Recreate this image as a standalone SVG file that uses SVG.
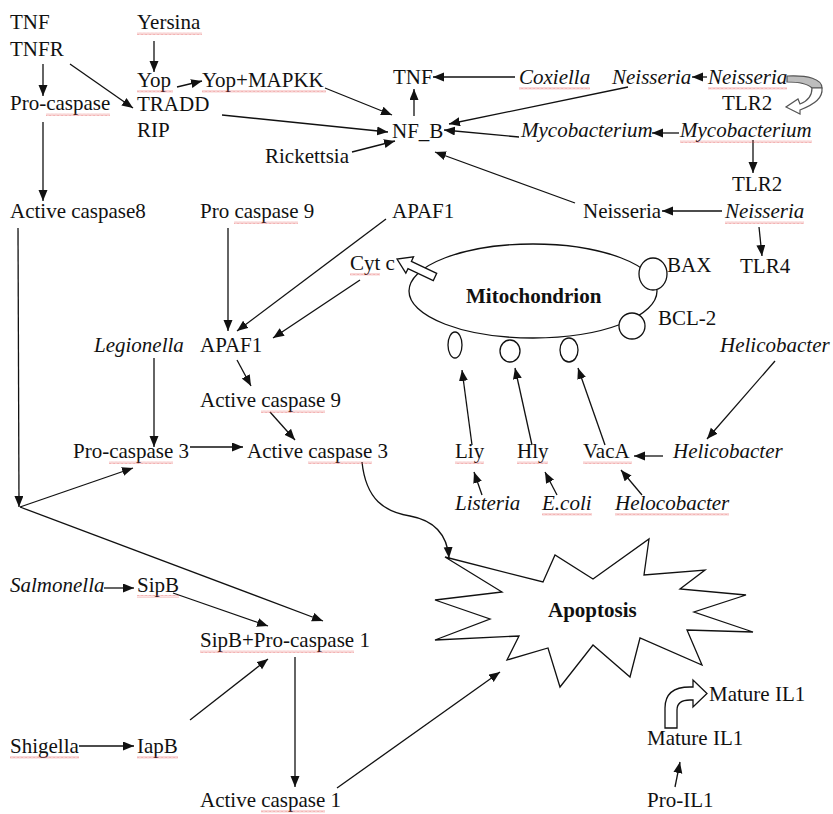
<svg xmlns="http://www.w3.org/2000/svg" width="833" height="814" viewBox="0 0 833 814">
<defs>
<style>
text{font-family:"Liberation Serif","Times New Roman",serif;font-size:21px;fill:#111}
.i{font-style:italic}
.b{font-weight:bold}
.c line,.c path{stroke:#111;stroke-width:1.3;fill:none}
.c .a{marker-end:url(#ah)}
.sq{fill:url(#wave)}
.shp{stroke:#111;stroke-width:1.3;fill:#fff}
</style>
<marker id="ah" markerUnits="userSpaceOnUse" markerWidth="12" markerHeight="10" refX="11" refY="4.5" orient="auto">
<path d="M0,0 L11,4.5 L0,9 Z" fill="#111"/>
</marker>
<pattern id="wave" patternUnits="userSpaceOnUse" width="4" height="3">
<path d="M0,2.5 L1,0.5 L2,2.5 L3,0.5 L4,2.5" fill="none" stroke="#e04848" stroke-width="0.6" stroke-dasharray="1 0.6"/>
</pattern>
</defs>
<rect width="833" height="814" fill="#fff"/>

<g id="connectors" class="c">
<line class="a" x1="43" y1="64" x2="43" y2="96"/>
<line class="a" x1="70" y1="64" x2="133" y2="108"/>
<line class="a" x1="43" y1="122" x2="43" y2="201"/>
<line class="a" x1="154" y1="41" x2="154" y2="72"/>
<line class="a" x1="177" y1="87" x2="202" y2="81"/>
<line class="a" x1="325" y1="88" x2="392" y2="115"/>
<line class="a" x1="222" y1="115" x2="388" y2="132"/>
<line class="a" x1="352" y1="152" x2="395" y2="141"/>
<line class="a" x1="414" y1="116" x2="414" y2="89"/>
<line class="a" x1="515" y1="77" x2="433" y2="77"/>
<line class="a" x1="628" y1="87" x2="449" y2="124"/>
<line class="a" x1="707" y1="77" x2="692" y2="77"/>
<line class="a" x1="519" y1="137" x2="444" y2="130"/>
<line class="a" x1="679" y1="133" x2="652" y2="133"/>
<line class="a" x1="753" y1="140" x2="753" y2="173"/>
<line class="a" x1="722" y1="211" x2="662" y2="211"/>
<line class="a" x1="575" y1="203" x2="435" y2="152"/>
<line class="a" x1="759" y1="227" x2="762" y2="256"/>
<line class="a" x1="18" y1="228" x2="19" y2="507"/>
<line class="a" x1="20" y1="507" x2="133" y2="468"/>
<line class="a" x1="20" y1="507" x2="323" y2="621"/>
<line class="a" x1="228" y1="228" x2="228" y2="331"/>
<line class="a" x1="386" y1="219" x2="237" y2="331"/>
<line class="a" x1="360" y1="280" x2="273" y2="338"/>
<line class="a" x1="154" y1="358" x2="154" y2="447"/>
<line class="a" x1="237" y1="360" x2="251" y2="386"/>
<line class="a" x1="270" y1="412" x2="295" y2="440"/>
<line class="a" x1="190" y1="447" x2="243" y2="447"/>
<path class="a" d="M362,462 C366,500 385,512 410,516 C432,520 447,532 449,558"/>
<line class="a" x1="104" y1="588" x2="134" y2="588"/>
<line class="a" x1="173" y1="593" x2="268" y2="626"/>
<line class="a" x1="190" y1="720" x2="268" y2="659"/>
<line class="a" x1="79" y1="746" x2="134" y2="746"/>
<line class="a" x1="295" y1="657" x2="295" y2="787"/>
<line class="a" x1="337" y1="788" x2="500" y2="672"/>
<line class="a" x1="472" y1="445" x2="462" y2="370"/>
<line class="a" x1="532" y1="445" x2="515" y2="368"/>
<line class="a" x1="605" y1="445" x2="578" y2="368"/>
<line class="a" x1="482" y1="495" x2="474" y2="472"/>
<line class="a" x1="557" y1="495" x2="545" y2="472"/>
<line class="a" x1="642" y1="495" x2="621" y2="470"/>
<line class="a" x1="663" y1="456" x2="634" y2="456"/>
<line class="a" x1="775" y1="361" x2="707" y2="439"/>
<line class="a" x1="675" y1="787" x2="680" y2="762"/>
</g>

<g id="mitochondrion">
<ellipse class="shp" cx="533" cy="291" rx="124" ry="47"/>
<text class="b" x="466" y="303">Mitochondrion</text>
</g>
<g id="cytc-arrow">
<path class="shp" transform="translate(435,277) rotate(205.3)" d="M0,-4 L28,-4 L28,-9 L42,0 L28,9 L28,4 L0,4 Z"/>
</g>
<g id="bax"><ellipse class="shp" cx="653" cy="274" rx="14" ry="16"/><text x="667" y="272">BAX</text></g>
<g id="bcl2"><circle class="shp" cx="632" cy="326" r="13"/><text x="658" y="325">BCL-2</text></g>
<g id="pore1"><ellipse class="shp" cx="455" cy="345" rx="7" ry="13"/></g>
<g id="pore2"><ellipse class="shp" cx="510" cy="351" rx="10" ry="11"/></g>
<g id="pore3"><ellipse class="shp" cx="569" cy="350" rx="9" ry="12"/></g>

<g id="apoptosis">
<path class="shp" d="M445,557 L543,582 L555,555 L593,579 L649,539 L644,575 L705,570 L680,589 L746,595 L694,612 L753,632 L687,630 L702,665 L640,638 L630,677 L593,645 L560,687 L548,648 L507,660 L519,636 L435,640 L490,619 L435,600 L502,592 Z"/>
<text class="b" x="548" y="617">Apoptosis</text>
</g>

<g id="tlr2-curved-arrow">
<path d="M787,76 C808,75 822,79 822,88 L812,88 C808,84 800,82 787,82 Z" fill="#bdbdbd" stroke="#555" stroke-width="1.2"/>
<path d="M822,88 C823,98 815,104 800,110 L800,114 L786,107 L798,99 L800,104 C808,101 812,95 812,88 Z" fill="#fff" stroke="#555" stroke-width="1.2"/>
</g>

<g id="il1-bent-arrow">
<path class="shp" d="M665,728 L665,708 Q665,687 690,687 L693,687 L693,680 L707,693.5 L693,707 L693,700 L690,700 Q677,700 677,710 L677,728 Z"/>
</g>

<g id="tnf1"><text x="10" y="29">TNF</text></g>
<g id="tnfr"><text x="10" y="56">TNFR</text></g>
<g id="procaspase"><text x="10" y="110">Pro-caspase</text><rect class="sq" x="46" y="113" width="64" height="3"/></g>
<g id="yersina"><text x="137" y="29">Yersina</text><rect class="sq" x="137" y="32" width="65" height="3"/></g>
<g id="yop"><text x="137" y="87">Yop</text><rect class="sq" x="137" y="90" width="36" height="3"/></g>
<g id="yopmapkk"><text x="202" y="87">Yop+MAPKK</text><rect class="sq" x="202" y="90" width="124" height="3"/></g>
<g id="tradd"><text x="137" y="111">TRADD</text></g>
<g id="rip"><text x="137" y="137">RIP</text></g>
<g id="tnf2"><text x="393" y="84">TNF</text></g>
<g id="nfb"><text x="392" y="138">NF_B</text></g>
<g id="rickettsia"><text x="265" y="163">Rickettsia</text></g>
<g id="coxiella"><text class="i" x="519" y="84">Coxiella</text><rect class="sq" x="519" y="87" width="71" height="3"/></g>
<g id="neisseria1"><text class="i" x="612" y="84">Neisseria</text></g>
<g id="neisseria2"><text class="i" x="708" y="84">Neisseria</text><rect class="sq" x="708" y="87" width="79" height="3"/></g>
<g id="tlr2a"><text x="722" y="110">TLR2</text></g>
<g id="myco1"><text class="i" x="521" y="137">Mycobacterium</text></g>
<g id="myco2"><text class="i" x="680" y="137">Mycobacterium</text><rect class="sq" x="680" y="140" width="132" height="3"/></g>
<g id="tlr2b"><text x="732" y="191">TLR2</text></g>
<g id="neisseria3"><text x="583" y="218">Neisseria</text></g>
<g id="neisseria4"><text class="i" x="725" y="218">Neisseria</text><rect class="sq" x="725" y="221" width="79" height="3"/></g>
<g id="tlr4"><text x="740" y="273">TLR4</text></g>
<g id="cytc"><text x="350" y="270">Cyt c</text><rect class="sq" x="350" y="273" width="30" height="3"/></g>
<g id="activecaspase8"><text x="10" y="218">Active caspase8</text></g>
<g id="procaspase9"><text x="200" y="218">Pro caspase 9</text><rect class="sq" x="234" y="221" width="64" height="3"/></g>
<g id="apaf1a"><text x="392" y="218">APAF1</text></g>
<g id="legionella"><text class="i" x="94" y="352">Legionella</text></g>
<g id="apaf1b"><text x="200" y="352">APAF1</text></g>
<g id="activecaspase9"><text x="200" y="407">Active caspase 9</text><rect class="sq" x="261" y="410" width="64" height="3"/></g>
<g id="procaspase3"><text x="73" y="458">Pro-caspase 3</text><rect class="sq" x="109" y="461" width="64" height="3"/></g>
<g id="activecaspase3"><text x="247" y="458">Active caspase 3</text><rect class="sq" x="308" y="461" width="64" height="3"/></g>
<g id="helicobacter1"><text class="i" x="720" y="352">Helicobacter</text></g>
<g id="liy"><text x="455" y="458">Liy</text><rect class="sq" x="455" y="461" width="29" height="3"/></g>
<g id="hly"><text x="517" y="458">Hly</text><rect class="sq" x="517" y="461" width="31" height="3"/></g>
<g id="vaca"><text x="583" y="458">VacA</text><rect class="sq" x="583" y="461" width="49" height="3"/></g>
<g id="helicobacter2"><text class="i" x="673" y="458">Helicobacter</text></g>
<g id="listeria"><text class="i" x="455" y="510">Listeria</text></g>
<g id="ecoli"><text class="i" x="542" y="510">E.coli</text><rect class="sq" x="542" y="513" width="50" height="3"/></g>
<g id="helocobacter"><text class="i" x="615" y="510">Helocobacter</text><rect class="sq" x="615" y="513" width="114" height="3"/></g>
<g id="salmonella"><text class="i" x="10" y="592">Salmonella</text></g>
<g id="sipb"><text x="137" y="592">SipB</text><rect class="sq" x="137" y="595" width="42" height="3"/></g>
<g id="sipbprocaspase1"><text x="200" y="647">SipB+Pro-caspase 1</text><rect class="sq" x="200" y="650" width="154" height="3"/></g>
<g id="shigella"><text x="10" y="753">Shigella</text><rect class="sq" x="10" y="756" width="69" height="3"/></g>
<g id="iapb"><text x="137" y="753">IapB</text><rect class="sq" x="137" y="756" width="41" height="3"/></g>
<g id="activecaspase1"><text x="200" y="807">Active caspase 1</text><rect class="sq" x="261" y="810" width="64" height="3"/></g>
<g id="matureil1a"><text x="709" y="701">Mature IL1</text></g>
<g id="matureil1b"><text x="647" y="745">Mature IL1</text></g>
<g id="proil1"><text x="647" y="807">Pro-IL1</text></g>
</svg>
